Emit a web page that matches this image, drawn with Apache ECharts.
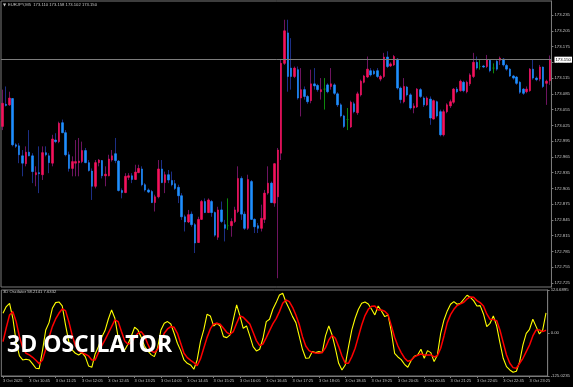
<!DOCTYPE html>
<html><head><meta charset="utf-8">
<script src="https://cdn.jsdelivr.net/npm/echarts@6/dist/echarts.min.js"></script>
<style>html,body{margin:0;padding:0;background:#000;}#c{width:573px;height:387px;}</style>
</head><body><div id="c"></div>
<script>
const SYMBOL = 'EURJPY,M5';
const INDICATOR = '3D Oscilator';
const TITLE = '3D OSCILATOR';

const OPEN = [173.023,173.065,173.064,173.076,172.988,172.986,172.967,172.952,172.974,172.967,
172.931,172.935,172.931,172.973,172.967,172.953,172.997,172.994,173.030,173.011,
172.969,172.943,172.953,172.954,172.956,172.977,172.954,172.938,172.909,172.954,
172.958,172.929,172.929,172.959,172.971,172.957,172.901,172.897,172.926,172.929,
172.922,172.935,172.942,172.912,172.902,172.899,172.878,172.889,172.942,172.916,
172.931,172.920,172.914,172.907,172.891,172.851,172.841,172.856,172.836,172.802,
172.846,172.880,172.859,172.880,172.859,172.812,172.864,172.836,172.834,172.834,
172.842,172.861,172.924,172.856,172.829,172.918,172.846,172.834,172.829,172.846,
172.896,172.915,172.877,172.889,172.972,173.143,173.201,173.134,173.118,173.131,
173.077,173.093,173.080,173.072,173.104,173.101,173.089,173.094,173.102,173.099,
173.102,173.085,173.064,173.043,173.036,173.022,173.066,173.049,173.083,173.107,
173.117,173.129,173.128,173.129,173.113,173.118,173.155,173.138,173.140,173.151,
173.096,173.070,173.098,173.083,173.058,173.060,173.093,173.077,173.064,173.075,
173.037,173.070,173.051,173.007,173.051,173.062,173.069,173.094,173.091,173.107,
173.089,173.104,173.118,173.145,173.137,173.138,173.137,173.149,173.134,173.147,
173.149,173.151,173.139,173.132,173.119,173.117,173.107,173.094,173.089,173.091,
173.132,173.115,173.113,173.136,173.105,173.110];
const CLOSE = [173.067,173.063,173.077,172.988,172.985,172.969,172.953,172.974,172.967,172.937,
172.935,172.933,172.973,172.969,172.954,172.999,172.994,173.029,173.011,172.969,
172.943,172.956,172.956,172.957,172.977,172.954,172.939,172.909,172.954,172.959,
172.929,172.932,172.961,172.967,172.958,172.901,172.897,172.928,172.929,172.922,
172.936,172.943,172.912,172.902,172.898,172.878,172.889,172.942,172.916,172.931,
172.921,172.912,172.905,172.891,172.851,172.841,172.855,172.836,172.801,172.846,
172.880,172.859,172.883,172.859,172.816,172.864,172.842,172.829,172.834,172.842,
172.864,172.924,172.856,172.829,172.922,172.846,172.832,172.829,172.848,172.896,
172.915,172.878,172.952,172.978,173.143,173.205,173.118,173.118,173.134,173.077,
173.093,173.080,173.070,173.104,173.100,173.093,173.093,173.094,173.089,173.104,
173.086,173.064,173.043,173.023,173.036,173.069,173.051,173.085,173.109,173.119,
173.132,173.121,173.123,173.118,173.118,173.155,173.137,173.142,173.156,173.096,
173.074,173.099,173.083,173.058,173.062,173.094,173.080,173.064,173.077,173.039,
173.072,173.043,173.007,173.051,173.064,173.070,173.094,173.089,173.109,173.091,
173.107,173.121,173.145,173.134,173.137,173.136,173.150,173.129,173.134,173.132,
173.153,173.140,173.132,173.119,173.115,173.105,173.088,173.086,173.094,173.132,
173.115,173.112,173.136,173.099,173.109,173.150];
const LOW = [173.016,173.061,173.062,172.985,172.982,172.953,172.928,172.947,172.966,172.915,
172.909,172.896,172.921,172.966,172.934,172.947,172.991,172.991,173.010,172.966,
172.937,172.928,172.928,172.928,172.953,172.953,172.937,172.883,172.905,172.947,
172.924,172.909,172.928,172.956,172.953,172.899,172.886,172.896,172.921,172.915,
172.921,172.934,172.909,172.899,172.896,172.877,172.861,172.886,172.915,172.896,
172.915,172.909,172.902,172.877,172.845,172.823,172.839,172.832,172.782,172.801,
172.845,172.858,172.858,172.851,172.813,172.807,172.839,172.804,172.826,172.813,
172.839,172.858,172.845,172.826,172.826,172.845,172.820,172.820,172.823,172.839,
172.893,172.877,172.870,172.734,172.959,173.140,173.089,173.093,173.115,173.074,
173.042,173.074,173.066,173.067,173.093,173.089,173.074,173.055,173.086,173.093,
173.083,173.060,173.040,173.020,173.016,173.020,173.048,173.045,173.080,173.105,
173.115,173.118,173.121,173.115,173.109,173.115,173.134,173.136,173.138,173.093,
173.067,173.067,173.080,173.055,173.048,173.058,173.077,173.060,173.062,173.026,
173.036,173.040,173.004,173.004,173.048,173.058,173.066,173.086,173.089,173.088,
173.086,173.100,173.115,173.131,173.131,173.134,173.134,173.126,173.124,173.129,
173.140,173.137,173.129,173.117,173.112,173.102,173.085,173.083,173.086,173.089,
173.112,173.109,173.109,173.096,173.064,173.102];
const HIGH = [173.093,173.099,173.089,173.077,172.991,172.991,172.978,172.985,173.016,172.972,
172.947,172.985,172.985,172.985,172.972,173.007,173.010,173.032,173.036,173.016,
172.975,172.966,172.997,173.001,172.994,172.982,172.959,172.943,172.959,172.961,
172.959,172.947,172.969,172.978,173.001,172.959,172.905,172.934,172.934,172.934,
172.950,172.950,172.947,172.915,172.905,172.902,172.893,172.959,172.959,172.937,
172.940,172.937,172.921,172.912,172.896,172.855,172.864,172.861,172.839,172.851,
172.883,172.886,172.886,172.883,172.861,172.870,172.880,172.845,172.886,172.848,
172.870,172.947,172.928,172.861,172.931,172.921,172.848,172.839,172.874,172.902,
172.947,172.918,172.953,172.982,173.150,173.226,173.226,173.191,173.137,173.137,
173.134,173.099,173.083,173.131,173.134,173.104,173.115,173.115,173.105,173.134,
173.105,173.088,173.067,173.045,173.058,173.072,173.070,173.089,173.112,173.121,
173.156,173.134,173.131,173.134,173.121,173.163,173.166,173.145,173.159,173.153,
173.099,173.115,173.100,173.086,173.067,173.096,173.096,173.080,173.080,173.080,
173.074,173.072,173.055,173.055,173.067,173.074,173.096,173.098,173.112,173.110,
173.110,173.124,173.163,173.156,173.150,173.140,173.159,173.151,173.143,173.150,
173.156,173.153,173.142,173.134,173.121,173.119,173.109,173.096,173.099,173.134,
173.151,173.118,173.140,173.137,173.112,173.158];

const OSC_MAIN = [57.1,76.5,86.1,42.6,-25.2,-66.8,-78.4,-76.5,-78.4,-90.0,
-102.6,-103.6,-51.3,8.7,30.0,71.6,88.1,90.0,78.4,23.2,
-25.2,-49.4,-59.0,-63.9,-57.1,-68.7,-95.8,-99.7,-61.0,-39.7,
-12.6,6.8,39.7,66.8,42.6,-12.6,-47.4,-49.4,-32.0,-8.7,
16.4,8.7,-12.6,-37.8,-52.3,-62.9,-68.7,-42.6,8.7,28.1,
32.9,26.1,-1.0,-30.0,-51.3,-78.4,-88.1,-92.9,-105.5,-78.4,
-25.2,8.7,54.2,49.4,20.3,28.1,20.3,-10.7,-13.6,-5.8,
39.7,81.3,49.4,13.5,20.3,-8.7,-39.7,-52.3,-47.4,-15.5,
32.9,39.7,68.7,88.1,110.3,115.2,89.0,69.7,47.4,30.0,
-8.7,-47.4,-73.6,-72.6,-54.2,-57.1,-54.2,-57.1,-8.7,20.3,
-5.8,-44.5,-88.1,-107.5,-92.9,-39.7,8.7,42.6,68.7,86.1,
90.0,84.2,68.7,52.3,78.4,63.9,47.4,52.3,3.9,-59.0,
-69.7,-77.4,-91.0,-99.7,-80.4,-67.8,-63.9,-47.4,-73.6,-51.3,
-57.1,-83.3,-63.9,-1.0,37.7,63.9,83.2,91.0,83.2,86.1,
97.8,109.4,103.6,93.9,78.4,79.4,55.2,18.4,28.1,49.4,
20.3,-28.1,-73.6,-97.8,-107.5,-114.2,-111.3,-83.3,-34.9,-1.0,
10.6,39.7,18.4,-2.9,8.7,58.2141];
const OSC_SIGNAL = [-25.2,15.5,52.3,61.9,32.9,-10.7,-42.6,-59.0,-63.9,-70.7,
-79.4,-89.1,-78.4,-47.4,-12.6,18.4,40.6,57.1,69.7,64.8,
32.9,-5.8,-36.8,-52.3,-57.1,-61.9,-66.8,-78.4,-78.4,-57.1,
-37.8,-20.3,-1.0,18.4,37.7,32.9,3.9,-23.2,-32.9,-28.1,
-12.6,-1.0,3.9,-8.7,-32.0,-52.3,-57.1,-47.4,-25.2,-1.0,
11.6,18.4,16.4,-1.0,-30.0,-59.0,-71.6,-79.4,-86.2,-94.9,
-75.5,-44.5,-13.6,11.6,26.1,28.1,25.2,13.5,1.9,-3.9,
3.9,28.1,49.4,45.5,35.8,26.1,1.9,-22.3,-36.8,-32.0,
-13.6,6.8,26.1,41.6,61.9,86.1,95.8,91.0,74.5,52.3,
25.2,-10.7,-37.8,-51.3,-56.2,-58.1,-59.0,-57.1,-42.6,-20.3,
-6.8,-15.5,-39.7,-66.8,-88.1,-88.1,-68.7,-44.5,-10.7,23.2,
50.3,68.7,77.4,78.4,66.8,66.8,62.9,53.2,21.3,-12.6,
-37.8,-57.1,-72.6,-82.3,-79.4,-69.7,-64.9,-61.0,-63.9,-63.9,
-63.9,-69.7,-65.8,-44.5,-8.7,30.0,53.2,68.7,79.4,84.2,
89.0,98.7,104.5,103.6,93.9,88.1,78.4,55.2,39.7,38.7,
35.8,8.7,-28.1,-63.9,-88.1,-100.7,-102.6,-88.1,-73.6,-54.2,
-34.9,-8.7,8.7,8.7,3.9,7.6332];

const PRICE_TICKS = [173.235,173.205,173.175,173.145,173.115,173.085,173.055,173.025,172.995,
172.965,172.935,172.905,172.875,172.845,172.815,172.785,172.755,172.725];
const OSC_TICKS = [-125.0235, 0, 124.6895];
const OSC_TICK_LABELS = ['-125.0235', '0.00', '124.6895'];
const TIME_LABELS = ['3 Oct 2025','3 Oct 10:45','3 Oct 11:25','3 Oct 12:05','3 Oct 12:45','3 Oct 13:25',
'3 Oct 14:05','3 Oct 14:45','3 Oct 15:25','3 Oct 16:05','3 Oct 16:45','3 Oct 17:25','3 Oct 18:05',
'3 Oct 18:45','3 Oct 19:25','3 Oct 20:05','3 Oct 20:45','3 Oct 21:25','3 Oct 22:05','3 Oct 22:45','3 Oct 23:25'];
const LABEL_EVERY = 8;
const BID = 173.150;

const BULL = '#f5125c', BEAR = '#1e8fff', DOJI = '#0c8a0c';
const BULL_WICK = '#6e1460', BEAR_WICK = '#1c2f85';
const AXIS = '#7a7a7a', TXT = '#c4c4c4';
const SMALL = 'Liberation Sans';

const N = OPEN.length;
const CATS = OPEN.map((_, i) => String(i));
const dojiStyle = {color: DOJI, color0: DOJI, borderColor: DOJI, borderColor0: DOJI};
const wickData = OPEN.map((o, i) => {
  const v = [o, CLOSE[i], LOW[i], HIGH[i]];
  return o === CLOSE[i] ? {value: v, itemStyle: dojiStyle} : v;
});
const bodyData = OPEN.map((o, i) => {
  const c = CLOSE[i];
  const v = [o, c, Math.min(o, c), Math.max(o, c)];
  return o === c ? {value: v, itemStyle: dojiStyle} : v;
});
const last = N - 1;
const header = SYMBOL + '  ' + [OPEN[last], HIGH[last], LOW[last], CLOSE[last]].map(v => v.toFixed(3)).join(' ');
const oscHeader = INDICATOR + ' ' + OSC_MAIN[last].toFixed(4) + ' ' + OSC_SIGNAL[last].toFixed(4);

const chart = echarts.init(document.getElementById('c'), null, {renderer: 'canvas'});
chart.setOption({
  backgroundColor: '#000',
  animation: false,
  grid: [
    {left: 1, right: 20, top: 1, height: 286, show: true, borderColor: AXIS, borderWidth: 1, backgroundColor: 'transparent'},
    {left: 1, right: 20, top: 290, height: 86, show: true, borderColor: AXIS, borderWidth: 1, backgroundColor: 'transparent'}
  ],
  xAxis: [
    {type: 'category', gridIndex: 0, data: CATS, boundaryGap: true, show: false},
    {type: 'category', gridIndex: 1, data: CATS, boundaryGap: true,
      axisLine: {show: true, onZero: false, lineStyle: {color: AXIS}},
      axisTick: {show: true, interval: LABEL_EVERY - 1, alignWithLabel: true, length: 2, lineStyle: {color: AXIS}},
      axisLabel: {interval: LABEL_EVERY - 1, align: 'left', margin: 3, color: TXT, fontSize: 4, fontFamily: SMALL,
        formatter: (v, idx) => TIME_LABELS[Math.round(idx / LABEL_EVERY)] || ''},
      splitLine: {show: false}}
  ],
  yAxis: [
    {type: 'value', gridIndex: 0, position: 'right', min: 172.7173, max: 173.2617,
      axisLine: {show: true, lineStyle: {color: AXIS}},
      axisTick: {show: true, customValues: PRICE_TICKS, length: 2, lineStyle: {color: AXIS}},
      axisLabel: {customValues: PRICE_TICKS, formatter: v => Number(v).toFixed(3), margin: 3, color: TXT, fontSize: 4.3, fontFamily: SMALL},
      splitLine: {show: false}},
    {type: 'value', gridIndex: 1, position: 'right', min: OSC_TICKS[0], max: OSC_TICKS[2],
      axisLine: {show: true, lineStyle: {color: AXIS}},
      axisTick: {show: true, customValues: OSC_TICKS, length: 2, lineStyle: {color: AXIS}},
      axisLabel: {customValues: OSC_TICKS, margin: 3, color: TXT, fontSize: 4.3, fontFamily: SMALL,
        formatter: v => { const k = OSC_TICKS.findIndex(t => Math.abs(t - v) < 1e-6); return k >= 0 ? OSC_TICK_LABELS[k] : ''; }},
      splitLine: {show: false}}
  ],
  series: [
    {type: 'candlestick', xAxisIndex: 0, yAxisIndex: 0, data: wickData, barWidth: 1,
      itemStyle: {color: BULL_WICK, color0: BEAR_WICK, borderColor: BULL_WICK, borderColor0: BEAR_WICK, borderWidth: 1},
      markLine: {silent: true, symbol: ['none', 'none'], animation: false,
        lineStyle: {color: '#7c7c7c', width: 1, type: 'solid'},
        label: {show: true, position: 'end', formatter: BID.toFixed(3), backgroundColor: '#ffffff', color: '#000',
          fontSize: 4.3, fontFamily: SMALL, padding: [1, 1], distance: 3},
        data: [{yAxis: BID}]}},
    {type: 'candlestick', xAxisIndex: 0, yAxisIndex: 0, data: bodyData, barWidth: 2,
      itemStyle: {color: BULL, color0: BEAR, borderColor: BULL, borderColor0: BEAR, borderWidth: 0.6}},
    {type: 'line', xAxisIndex: 1, yAxisIndex: 1, data: OSC_MAIN, showSymbol: false, smooth: false,
      lineStyle: {color: '#ffff00', width: 1.1}},
    {type: 'line', xAxisIndex: 1, yAxisIndex: 1, data: OSC_SIGNAL, showSymbol: false, smooth: false,
      lineStyle: {color: '#ff0000', width: 1.5}}
  ],
  graphic: [
    {type: 'text', left: 3, top: 3, style: {text: '▼', fill: TXT, font: '4px "DejaVu Sans"'}},
    {type: 'text', left: 8, top: 3, style: {text: header, fill: TXT, font: '4.2px "Liberation Sans"'}},
    {type: 'text', left: 3, top: 290, style: {text: oscHeader, fill: TXT, font: '4.2px "Liberation Sans"'}},
    {type: 'text', left: 7, top: 334, z: 100, style: {text: TITLE, fill: '#ffffff', font: 'bold 23px "Open Sans"',
      shadowColor: 'rgba(80,80,80,0.8)', shadowBlur: 1, shadowOffsetX: 1, shadowOffsetY: 1}}
  ]
});
</script>
</body></html>
